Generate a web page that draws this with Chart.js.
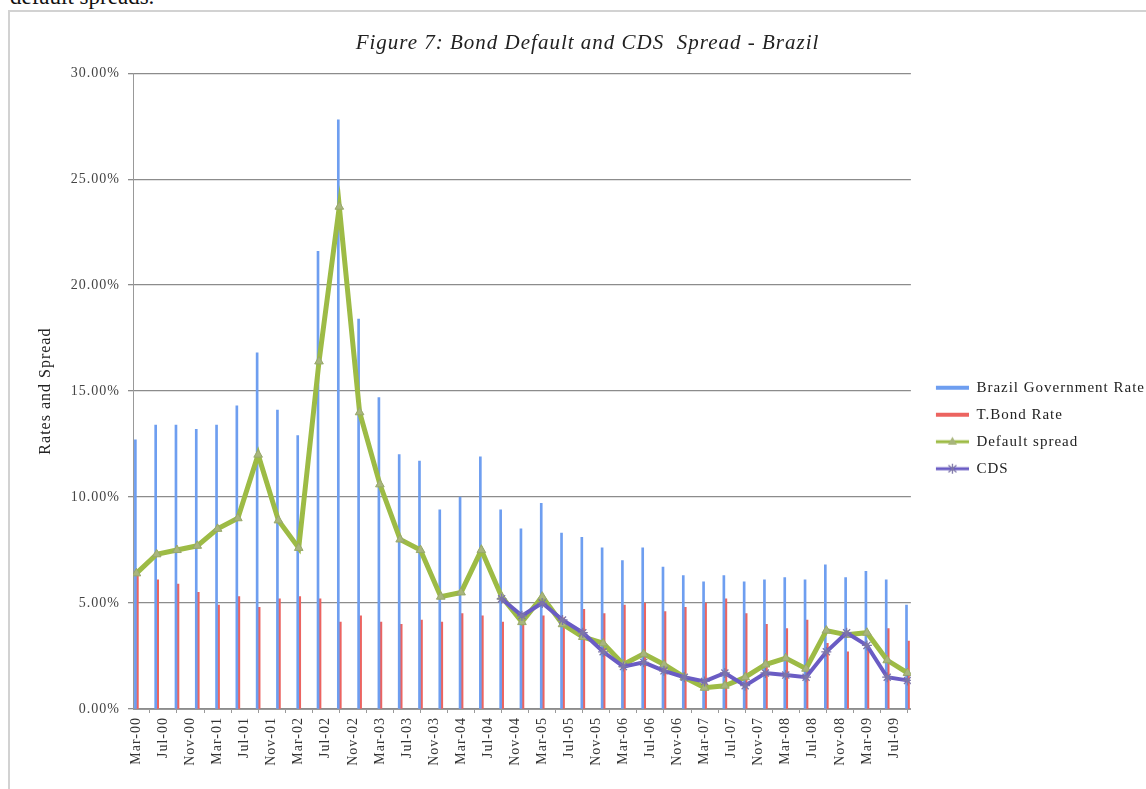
<!DOCTYPE html>
<html>
<head>
<meta charset="utf-8">
<script src="https://cdn.jsdelivr.net/npm/chart.js@4"></script>
<style>
  body { margin: 0; background: #fff; overflow: hidden; width: 1146px; height: 789px; position: relative; }
  #frame { position: absolute; left: 8px; top: 10px; width: 1150px; height: 790px; border: 2px solid #d2d2d2; box-sizing: border-box; }
  #above { position: absolute; left: 10px; top: -16px; font: 23px "Liberation Serif", serif; color: #111; }
  #c { position: absolute; left: 0; top: 0; }
</style>
</head>
<body>
<div id="above">default spreads.</div>
<div id="frame"></div>
<canvas id="c" width="1146" height="789"></canvas>
<script>
// quarterly observations
var quarters = ['Mar-00','Jun-00','Sep-00','Dec-00','Mar-01','Jun-01','Sep-01','Dec-01',
  'Mar-02','Jun-02','Sep-02','Dec-02','Mar-03','Jun-03','Sep-03','Dec-03',
  'Mar-04','Jun-04','Sep-04','Dec-04','Mar-05','Jun-05','Sep-05','Dec-05',
  'Mar-06','Jun-06','Sep-06','Dec-06','Mar-07','Jun-07','Sep-07','Dec-07',
  'Mar-08','Jun-08','Sep-08','Dec-08','Mar-09','Jun-09','Sep-09'];

var brazilRate = [12.7, 13.4, 13.4, 13.2, 13.4, 14.3, 16.8, 14.1, 12.9, 21.6, 27.8, 18.4, 14.7, 12.0, 11.7, 9.4,
  10.0, 11.9, 9.4, 8.5, 9.7, 8.3, 8.1, 7.6, 7.0, 7.6, 6.7, 6.3, 6.0, 6.3, 6.0, 6.1,
  6.2, 6.1, 6.8, 6.2, 6.5, 6.1, 4.9];
var tbondRate = [6.3, 6.1, 5.9, 5.5, 4.9, 5.3, 4.8, 5.2, 5.3, 5.2, 4.1, 4.4, 4.1, 4.0, 4.2, 4.1,
  4.5, 4.4, 4.1, 4.4, 4.4, 4.3, 4.7, 4.5, 4.9, 5.0, 4.6, 4.8, 5.0, 5.2, 4.5, 4.0,
  3.8, 4.2, 3.1, 2.7, 2.9, 3.8, 3.2];
var defaultSpread = [6.4, 7.3, 7.5, 7.7, 8.5, 9.0, 12.0, 8.9, 7.6, 16.4, 23.7, 14.0, 10.6, 8.0, 7.5, 5.3,
  5.5, 7.5, 5.3, 4.1, 5.3, 4.0, 3.4, 3.1, 2.1, 2.6, 2.1, 1.5, 1.0, 1.1, 1.5, 2.1,
  2.4, 1.9, 3.7, 3.5, 3.6, 2.3, 1.7];
var cds = [null, null, null, null, null, null, null, null, null, null, null, null, null, null, null, null,
  null, null, 5.2, 4.4, 5.0, 4.2, 3.6, 2.7, 2.0, 2.2, 1.8, 1.5, 1.3, 1.7, 1.1, 1.7,
  1.6, 1.5, 2.7, 3.6, 3.0, 1.5, 1.35];

// axis labels every 4 months
var tickLabels = ['Mar-00','Jul-00','Nov-00','Mar-01','Jul-01','Nov-01','Mar-02','Jul-02','Nov-02',
  'Mar-03','Jul-03','Nov-03','Mar-04','Jul-04','Nov-04','Mar-05','Jul-05','Nov-05',
  'Mar-06','Jul-06','Nov-06','Mar-07','Jul-07','Nov-07','Mar-08','Jul-08','Nov-08',
  'Mar-09','Jul-09'];

var MONTHS = ['Jan','Feb','Mar','Apr','May','Jun','Jul','Aug','Sep','Oct','Nov','Dec'];
function monthNo(lbl) { // months since Mar-00
  var p = lbl.split('-');
  return (parseInt(p[1], 10)) * 12 + MONTHS.indexOf(p[0]) - 2;
}
var qx = quarters.map(monthNo);
var tickX = tickLabels.map(monthNo);
function pts(vals) { return vals.map(function (v, i) { return {x: qx[i], y: v}; }); }

function swatch(color, w, marker, mcol) {
  var cv = document.createElement('canvas');
  cv.width = 46; cv.height = 16;
  var g = cv.getContext('2d');
  g.strokeStyle = color; g.lineWidth = w;
  g.beginPath(); g.moveTo(13, 8); g.lineTo(46, 8); g.stroke();
  if (marker === 'tri') {
    g.fillStyle = mcol;
    g.beginPath(); g.moveTo(29.5, 3); g.lineTo(34, 11); g.lineTo(25, 11); g.closePath(); g.fill();
  } else if (marker === 'star') {
    g.strokeStyle = mcol; g.lineWidth = 1.3;
    g.beginPath();
    g.moveTo(29.5, 3); g.lineTo(29.5, 13);
    g.moveTo(25.5, 4.5); g.lineTo(33.5, 11.5);
    g.moveTo(33.5, 4.5); g.lineTo(25.5, 11.5);
    g.stroke();
  }
  return cv;
}

var blue = '#6e9ef0', red = '#ec6460', green = '#9dbb45', purple = '#6a5cc4';
var swatches = [swatch(blue, 4, null), swatch(red, 4, null), swatch(green, 3, 'tri', '#a8b57c'), swatch(purple, 3, 'star', '#7d76a8')];

Chart.defaults.font.family = '"Liberation Serif", "Times New Roman", serif';
Chart.defaults.color = '#333';

// the original uses rather loosely spaced type
var spacing = {
  id: 'spacing',
  beforeLayout: function (c) { c.ctx.letterSpacing = '1px'; },
  beforeDraw: function (c) { c.ctx.letterSpacing = '1px'; }
};

var ctx = document.getElementById('c');
var chart = new Chart(ctx, {
  type: 'line',
  data: {
    datasets: [
      { type: 'bar', label: 'Brazil Government Rate', data: pts(brazilRate), backgroundColor: blue, barThickness: 2, borderWidth: 0, order: 3 },
      { type: 'bar', label: 'T.Bond Rate', data: pts(tbondRate), backgroundColor: red, barThickness: 2, borderWidth: 0, order: 3 },
      { type: 'line', label: 'Default spread', data: pts(defaultSpread), borderColor: green, borderWidth: 5,
        pointStyle: 'triangle', pointRadius: 5, pointBackgroundColor: '#a8b57c', pointBorderColor: '#98a86a', pointBorderWidth: 1,
        tension: 0, order: 2 },
      { type: 'line', label: 'CDS', data: pts(cds), borderColor: purple, borderWidth: 4,
        pointStyle: 'star', pointRadius: 5, pointBorderColor: '#7d76a8', pointBorderWidth: 1.3,
        tension: 0, order: 1 }
    ]
  },
  plugins: [spacing],
  options: {
    responsive: false,
    animation: false,
    devicePixelRatio: 1,
    layout: { padding: { left: 20, right: -9, top: 3, bottom: 0 } },
    scales: {
      x: {
        type: 'linear', offset: false, min: -0.5, max: 114.5,
        afterBuildTicks: function (s) { s.ticks = tickX.map(function (v) { return {value: v}; }); },
        afterFit: function (s) { s.height = 80; },
        ticks: {
          autoSkip: false, maxRotation: 90, minRotation: 90, padding: 4,
          font: { size: 14 }, color: '#333',
          callback: function (v, i) { return tickLabels[i]; }
        },
        grid: { display: true, drawOnChartArea: false, tickLength: 4, color: '#999' },
        border: { color: '#999', width: 1 }
      },
      y: {
        min: 0, max: 30,
        afterFit: function (s) { s.width = 113; },
        ticks: { stepSize: 5, padding: 8, font: { size: 14 }, color: '#444',
          callback: function (v) { return v.toFixed(2) + '%'; } },
        grid: { color: '#8c8c8c', lineWidth: 1.3, tickLength: 5 },
        border: { color: '#999', width: 1 },
        title: { display: true, text: 'Rates and Spread', font: { size: 16 }, color: '#222', padding: { top: 16, bottom: 0 } }
      }
    },
    plugins: {
      title: {
        display: true,
        text: 'Figure 7: Bond Default and CDS  Spread - Brazil',
        font: { size: 21, style: 'italic', weight: 'normal' },
        color: '#222',
        padding: { top: 28, bottom: 17 }
      },
      legend: {
        position: 'right',
        title: { display: true, text: '', font: { size: 12 }, padding: { top: 0, bottom: 50 } },
        labels: {
          usePointStyle: true, pointStyleWidth: 46, padding: 12,
          font: { size: 15 }, color: '#222',
          generateLabels: function (c) {
            return c.data.datasets.map(function (ds, i) {
              return { text: ds.label, pointStyle: swatches[i], fillStyle: 'transparent', strokeStyle: 'transparent',
                lineWidth: 0, hidden: false, datasetIndex: i, fontColor: '#222' };
            });
          }
        }
      },
      tooltip: { enabled: false }
    }
  }
});
</script>
</body>
</html>
